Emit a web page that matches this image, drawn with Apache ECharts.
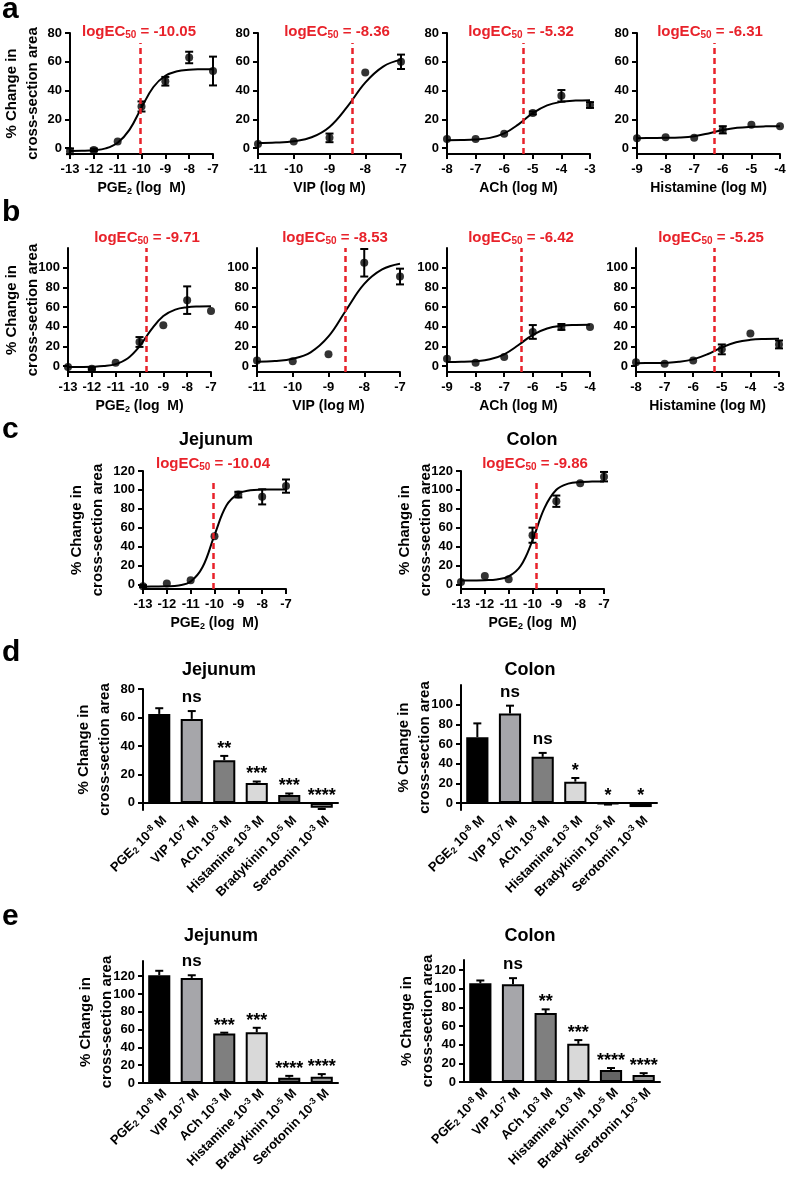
<!DOCTYPE html>
<html>
<head>
<meta charset="utf-8">
<script src="https://cdn.jsdelivr.net/npm/echarts@6/dist/echarts.min.js"></script>
<style>
html, body { margin: 0; padding: 0; background: #fff; }
#chart { width: 787px; height: 1177px; }
</style>
</head>
<body>
<div id="chart"></div>
<script>
// ---- data ----
// log doses
const dosePge = [-13, -12, -11, -10, -9, -8, -7];
const doseVip = [-11, -10, -9, -8, -7];
const dose8to3 = [-8, -7, -6, -5, -4, -3];
const dose9to4 = [-9, -8, -7, -6, -5, -4];
// fitted curve sampled every half log unit
const fitXPge = [-13, -12.5, -12, -11.5, -11, -10.5, -10, -9.5, -9, -8.5, -8, -7.5, -7];
const fitXVip = [-11, -10.5, -10, -9.5, -9, -8.5, -8, -7.5, -7];
const fitX8to3 = [-8, -7.5, -7, -6.5, -6, -5.5, -5, -4.5, -4, -3.5, -3];
const fitX9to4 = [-9, -8.5, -8, -7.5, -7, -6.5, -6, -5.5, -5, -4.5, -4];

// panel a
const aPgeMean = [-2.1, -1.2, 4.7, 29, 46.5, 63, 53.6];
const aPgeSem = [2, 1, 0, 3.5, 3, 4, 10];
const aPgeFit = [-1.9, -1.8, -1.4, -0.1, 3.8, 12.9, 28.2, 42.5, 50.3, 53.5, 54.5, 54.8, 54.9];
const aVipMean = [3.0, 4.7, 7.2, 52.5, 60];
const aVipSem = [0, 0, 3, 0, 5];
const aVipFit = [3.6, 3.9, 4.9, 7.6, 14.8, 28.9, 45.6, 56.7, 61.5];
const aAchMean = [6.5, 6.5, 10, 24.5, 36.4, 30];
const aAchSem = [0, 0, 0, 1, 4, 2];
const aAchFit = [5.6, 5.7, 6.1, 7.2, 10.3, 16.6, 24.4, 29.8, 32.2, 33.1, 33.4];
const aHisMean = [7, 7.7, 7.2, 12.8, 16.3, 15.2];
const aHisSem = [0, 0, 0, 2.5, 0, 0];
const aHisFit = [7.0, 7.1, 7.2, 7.5, 8.4, 10.3, 12.6, 14.2, 14.9, 15.2, 15.3];
const aEc50 = [-10.05, -8.36, -5.32, -6.31];

// panel b
const bPgeMean = [-1, -2.7, 3.4, 24.5, 41.5, 67, 56];
const bPgeSem = [0, 1, 0, 5, 0, 14, 0];
const bPgeFit = [-1.0, -0.9, -0.7, 0.0, 2.0, 7.7, 20.0, 37.4, 50.9, 57.4, 59.8, 60.6, 60.9];
const bVipMean = [5.8, 4.8, 12, 105, 91];
const bVipSem = [0, 0, 0, 14, 8];
const bVipFit = [4.4, 5.1, 7.4, 14.0, 30.1, 57.3, 83.5, 98.2, 104.0];
const bAchMean = [7.5, 3.4, 9.2, 34.7, 39.8, 39.8];
const bAchSem = [0, 0, 0, 7, 3, 0];
const bAchFit = [4.1, 4.3, 5.0, 6.9, 12.0, 21.4, 31.8, 38.2, 40.9, 41.8, 42.1];
const bHisMean = [4, 2.4, 5.8, 17, 33, 22];
const bHisSem = [0, 0, 0, 5, 0, 4];
const bHisFit = [3.0, 3.1, 3.4, 4.3, 6.8, 12.0, 19.0, 24.2, 26.7, 27.6, 27.9];
const bEc50 = [-9.71, -8.53, -6.42, -5.25];

// panel c (PGE2)
const cJejMean = [-2, 0.7, 4.2, 51, 95, 92.6, 104];
const cJejSem = [1, 0, 0, 0, 3, 8, 7];
const cJejFit = [-2.5, -2.4, -2.2, -1.2, 3.0, 18.3, 52.1, 83.4, 96.1, 99.5, 100.3, 100.5, 100.5];
const cColMean = [2.5, 8.8, 5.3, 52, 88, 107, 114];
const cColSem = [0, 0, 0, 8, 6, 0, 5];
const cColFit = [4.0, 4.1, 4.3, 5.1, 8.3, 19.3, 46.5, 80.7, 100.1, 106.6, 108.4, 108.8, 109.0];
const cEc50 = [-10.04, -9.86];

// panels d and e (bars)
const barAgents = ['PGE2', 'VIP', 'ACh', 'Histamine', 'Bradykinin', 'Serotonin'];
const barExps = ['-8', '-7', '-3', '-3', '-5', '-3'];
const dJejMean = [62.5, 59, 30, 14, 5.6, -3.5];
const dJejSem = [4, 5.5, 3, 1, 1, 0.8];
const dJejSig = ['', 'ns', '**', '***', '***', '****'];
const dColMean = [67, 91, 47, 21.8, -1, -4];
const dColSem = [14, 8, 4, 3.7, 0.5, 0];
const dColSig = ['', 'ns', 'ns', '*', '*', '*'];
const eJejMean = [121, 118, 55.5, 57, 6, 7];
const eJejSem = [5, 3, 1, 5, 2, 3];
const eJejSig = ['', 'ns', '***', '***', '****', '****'];
const eColMean = [106, 105, 74, 41, 13, 7.5];
const eColSem = [3, 6.5, 4, 4, 2, 2];
const eColSig = ['', 'ns', '**', '***', '****', '****'];

// ---- styling ----
const FONT = '"Liberation Sans", Arial, Helvetica, sans-serif';
const RED = '#e8222a';
const barColors = ['#000000', '#a6a6aa', '#7f7f7f', '#d9d9d9', '#646464', '#9c9c9c'];
const Y_NAME = '% Change in\ncross-section area';

const chart = echarts.init(document.getElementById('chart'));
const grid = [], xAxis = [], yAxis = [], series = [], graphic = [];

const axisLineStyle = { color: '#000', width: 2 };
const tickFont = { color: '#000', fontSize: 13, fontWeight: 'bold', fontFamily: FONT };
const yNameStyle = { color: '#000', fontSize: 15, fontWeight: 'bold', fontFamily: FONT, lineHeight: 21 };

function xNameText(agent) {
  if (agent === 'PGE2') return '{b|PGE}{s|2}{b| (log  M)}';
  return '{b|' + agent + ' (log M)}';
}

function yAxisFor(g, p) {
  return {
    gridIndex: g, type: 'value', min: p.yMin, max: p.yMax,
    axisLine: { show: true, onZero: false, lineStyle: axisLineStyle },
    axisTick: { show: true, length: 5, lineStyle: axisLineStyle, customValues: p.yTicks },
    axisLabel: Object.assign({ margin: 8, customValues: p.yTicks }, tickFont),
    splitLine: { show: false },
    name: p.yName ? Y_NAME : '', nameLocation: 'middle', nameGap: p.nameGap || 32,
    nameMoveOverlap: false,
    nameTextStyle: yNameStyle
  };
}

function addText(x, y, text, font, color, align) {
  graphic.push({
    type: 'text', x: x, y: y, silent: true,
    style: { text: text, font: font, fill: color || '#000', align: align || 'center', verticalAlign: 'middle' }
  });
}

function addCurvePlot(p) {
  const g = grid.length;
  grid.push({ left: p.left, top: p.top, width: p.width, height: p.height, containLabel: false, outerBoundsMode: 'none' });
  xAxis.push({
    gridIndex: g, type: 'value', min: p.dose[0], max: p.dose[p.dose.length - 1], interval: 1,
    axisLine: { show: true, onZero: false, lineStyle: axisLineStyle },
    axisTick: { show: true, length: 5, lineStyle: axisLineStyle },
    axisLabel: Object.assign({ margin: 9 }, tickFont),
    splitLine: { show: false },
    name: xNameText(p.agent), nameLocation: 'middle', nameGap: 26,
    nameMoveOverlap: false,
    nameTextStyle: {
      rich: {
        b: { color: '#000', fontSize: 14, fontWeight: 'bold', fontFamily: FONT, lineHeight: 16 },
        s: { color: '#000', fontSize: 9, fontWeight: 'bold', fontFamily: FONT, lineHeight: 9, verticalAlign: 'bottom' }
      }
    }
  });
  yAxis.push(yAxisFor(g, p));

  series.push({
    type: 'line', xAxisIndex: g, yAxisIndex: g, z: 2, silent: true,
    data: p.fitX.map((x, i) => [x, p.fitY[i]]),
    smooth: 0.4, showSymbol: false,
    lineStyle: { color: '#000', width: 2 }
  });
  series.push({
    type: 'custom', xAxisIndex: g, yAxisIndex: g, z: 3, silent: true,
    data: p.dose.map((d, i) => [d, p.mean[i], p.sem[i]]),
    encode: { x: 0, y: 1 },
    renderItem: function (params, api) {
      const s = api.value(2);
      if (!s) return null;
      const x = api.value(0), m = api.value(1);
      const lo = api.coord([x, m - s]), hi = api.coord([x, m + s]);
      const st = { stroke: '#000', lineWidth: 2 };
      return {
        type: 'group', children: [
          { type: 'line', shape: { x1: lo[0], y1: lo[1], x2: hi[0], y2: hi[1] }, style: st },
          { type: 'line', shape: { x1: lo[0] - 4, y1: lo[1], x2: lo[0] + 4, y2: lo[1] }, style: st },
          { type: 'line', shape: { x1: hi[0] - 4, y1: hi[1], x2: hi[0] + 4, y2: hi[1] }, style: st }
        ]
      };
    }
  });
  series.push({
    type: 'scatter', xAxisIndex: g, yAxisIndex: g, z: 4, silent: true,
    data: p.dose.map((d, i) => [d, p.mean[i]]),
    symbol: 'circle', symbolSize: 8, itemStyle: { color: '#000' },
    markLine: {
      silent: true, symbol: 'none', label: { show: false },
      lineStyle: { color: RED, type: [6, 4], width: 2.5 },
      data: [[{ coord: [p.ec50, p.yMin] }, { coord: [p.ec50, p.lineTop] }]]
    }
  });

  graphic.push({
    type: 'text', x: p.textX, y: p.textY, silent: true,
    style: {
      text: '{a|logEC}{b|50}{a| = ' + p.ec50.toFixed(2) + '}',
      fill: RED, align: 'center', verticalAlign: 'middle',
      rich: {
        a: { fill: RED, fontSize: 15, fontWeight: 'bold', fontFamily: FONT, lineHeight: 17 },
        b: { fill: RED, fontSize: 10, fontWeight: 'bold', fontFamily: FONT, lineHeight: 10, verticalAlign: 'bottom' }
      }
    }
  });
}

function barLabel(val, idx) {
  const agent = barAgents[idx] === 'PGE2' ? '{t|PGE}{s|2}' : '{t|' + barAgents[idx] + '}';
  return agent + '{t| 10}{p|' + barExps[idx] + '}{t| M}';
}

function addBarPlot(p) {
  const g = grid.length;
  grid.push({ left: p.left, top: p.top, width: p.width, height: p.height, containLabel: false, outerBoundsMode: 'none' });
  xAxis.push({
    gridIndex: g, type: 'category', data: barAgents.map((a, i) => a + ' 10' + barExps[i] + ' M'),
    axisLine: { show: true, onZero: true, lineStyle: axisLineStyle },
    axisTick: { show: false },
    axisLabel: {
      interval: 0, rotate: 45, margin: 3, verticalAlign: 'top', formatter: barLabel,
      rich: {
        t: { color: '#000', fontSize: 13, fontWeight: 'bold', fontFamily: FONT, lineHeight: 15 },
        s: { color: '#000', fontSize: 9, fontWeight: 'bold', fontFamily: FONT, lineHeight: 9, verticalAlign: 'bottom' },
        p: { color: '#000', fontSize: 9, fontWeight: 'bold', fontFamily: FONT, lineHeight: 9, verticalAlign: 'top' }
      }
    },
    splitLine: { show: false }
  });
  yAxis.push(yAxisFor(g, p));

  series.push({
    type: 'bar', xAxisIndex: g, yAxisIndex: g, z: 2, silent: true, barWidth: '68%',
    data: p.mean.map((m, i) => ({ value: m, itemStyle: { color: barColors[i] } })),
    itemStyle: { borderColor: '#000', borderWidth: 2 }
  });
  const sigs = p.sig;
  series.push({
    type: 'custom', xAxisIndex: g, yAxisIndex: g, z: 3, silent: true,
    data: p.mean.map((m, i) => [i, m, p.sem[i]]),
    encode: { x: 0, y: 1 },
    renderItem: function (params, api) {
      const i = params.dataIndex;
      const m = api.value(1), s = api.value(2);
      const base = api.coord([i, m]);
      const tip = api.coord([i, m >= 0 ? m + s : m - s]);
      const zeroY = api.coord([i, 0])[1];
      const st = { stroke: '#000', lineWidth: 2 };
      const children = [];
      if (s) {
        children.push({ type: 'line', shape: { x1: base[0], y1: base[1], x2: tip[0], y2: tip[1] }, style: st });
        children.push({ type: 'line', shape: { x1: tip[0] - 4, y1: tip[1], x2: tip[0] + 4, y2: tip[1] }, style: st });
      }
      const capY = Math.min(tip[1], zeroY);
      const sig = sigs[i];
      if (sig) {
        const isNs = sig === 'ns';
        children.push({
          type: 'text', x: base[0], y: isNs ? capY - 13.5 : capY - 7,
          style: {
            text: sig, fill: '#000', align: 'center', verticalAlign: 'middle',
            font: 'bold ' + (isNs ? 17 : 18) + 'px ' + FONT
          }
        });
      }
      return { type: 'group', children: children };
    }
  });
}

// ---- panel a ----
const aLefts = [70, 258, 447, 637];
const aText = [139, 337, 521, 710];
const rowA = { top: 33, height: 121, width: 143, yMin: -4, yMax: 80, yTicks: [0, 20, 40, 60, 80], lineTop: 73, textY: 32 };
addCurvePlot(Object.assign({}, rowA, { left: aLefts[0], textX: aText[0], agent: 'PGE2', dose: dosePge, mean: aPgeMean, sem: aPgeSem, fitX: fitXPge, fitY: aPgeFit, ec50: aEc50[0], yName: true, nameGap: 27 }));
addCurvePlot(Object.assign({}, rowA, { left: aLefts[1], textX: aText[1], agent: 'VIP', dose: doseVip, mean: aVipMean, sem: aVipSem, fitX: fitXVip, fitY: aVipFit, ec50: aEc50[1] }));
addCurvePlot(Object.assign({}, rowA, { left: aLefts[2], textX: aText[2], agent: 'ACh', dose: dose8to3, mean: aAchMean, sem: aAchSem, fitX: fitX8to3, fitY: aAchFit, ec50: aEc50[2] }));
addCurvePlot(Object.assign({}, rowA, { left: aLefts[3], textX: aText[3], agent: 'Histamine', dose: dose9to4, mean: aHisMean, sem: aHisSem, fitX: fitX9to4, fitY: aHisFit, ec50: aEc50[3] }));

// ---- panel b ----
const bLefts = [68, 257, 447, 636];
const bText = [147, 335, 521, 711];
const rowB = { top: 248, height: 124, width: 143, yMin: -6, yMax: 120, yTicks: [0, 20, 40, 60, 80, 100], lineTop: 120, textY: 238 };
addCurvePlot(Object.assign({}, rowB, { left: bLefts[0], textX: bText[0], agent: 'PGE2', dose: dosePge, mean: bPgeMean, sem: bPgeSem, fitX: fitXPge, fitY: bPgeFit, ec50: bEc50[0], yName: true, nameGap: 25 }));
addCurvePlot(Object.assign({}, rowB, { left: bLefts[1], textX: bText[1], agent: 'VIP', dose: doseVip, mean: bVipMean, sem: bVipSem, fitX: fitXVip, fitY: bVipFit, ec50: bEc50[1] }));
addCurvePlot(Object.assign({}, rowB, { left: bLefts[2], textX: bText[2], agent: 'ACh', dose: dose9to4, mean: bAchMean, sem: bAchSem, fitX: fitX9to4, fitY: bAchFit, ec50: bEc50[2] }));
addCurvePlot(Object.assign({}, rowB, { left: bLefts[3], textX: bText[3], agent: 'Histamine', dose: dose8to3, mean: bHisMean, sem: bHisSem, fitX: fitX8to3, fitY: bHisFit, ec50: bEc50[3] }));

// ---- panel c ----
const rowC = { top: 471, height: 118, width: 143, yMin: -5, yMax: 120, yTicks: [0, 20, 40, 60, 80, 100, 120], lineTop: 111, textY: 464, agent: 'PGE2', dose: dosePge, fitX: fitXPge, yName: true };
addCurvePlot(Object.assign({}, rowC, { left: 143, textX: 213, mean: cJejMean, sem: cJejSem, fitY: cJejFit, ec50: cEc50[0], nameGap: 35 }));
addCurvePlot(Object.assign({}, rowC, { left: 461, textX: 535, mean: cColMean, sem: cColSem, fitY: cColFit, ec50: cEc50[1], nameGap: 25 }));

// ---- panels d, e ----
addBarPlot({ left: 143, top: 689, width: 195, height: 121, yMin: -5, yMax: 80, yTicks: [0, 20, 40, 60, 80], mean: dJejMean, sem: dJejSem, sig: dJejSig, yName: true, nameGap: 28 });
addBarPlot({ left: 461, top: 685, width: 196, height: 125, yMin: -7, yMax: 120, yTicks: [0, 20, 40, 60, 80, 100], mean: dColMean, sem: dColSem, sig: dColSig, yName: true, nameGap: 25.5 });
addBarPlot({ left: 143, top: 961, width: 195, height: 122, yMin: 0, yMax: 137, yTicks: [0, 20, 40, 60, 80, 100, 120], mean: eJejMean, sem: eJejSem, sig: eJejSig, yName: true, nameGap: 25.5 });
addBarPlot({ left: 464, top: 960, width: 196, height: 122, yMin: 0, yMax: 131, yTicks: [0, 20, 40, 60, 80, 100, 120], mean: eColMean, sem: eColSem, sig: eColSig, yName: true, nameGap: 25.5 });

// ---- panel letters and titles ----
const letterFont = 'bold 30px ' + FONT;
addText(2, 10, 'a', letterFont, '#000', 'left');
addText(2, 213, 'b', letterFont, '#000', 'left');
addText(2, 430, 'c', letterFont, '#000', 'left');
addText(2, 653, 'd', letterFont, '#000', 'left');
addText(2, 917, 'e', letterFont, '#000', 'left');
const titleFont = 'bold 18px ' + FONT;
addText(216, 440, 'Jejunum', titleFont);
addText(532, 440, 'Colon', titleFont);
addText(219, 670, 'Jejunum', titleFont);
addText(530, 670, 'Colon', titleFont);
addText(221, 936, 'Jejunum', titleFont);
addText(530, 936, 'Colon', titleFont);

chart.setOption({
  animation: false,
  backgroundColor: '#fff',
  grid: grid, xAxis: xAxis, yAxis: yAxis, series: series, graphic: graphic
});
</script>
</body>
</html>
